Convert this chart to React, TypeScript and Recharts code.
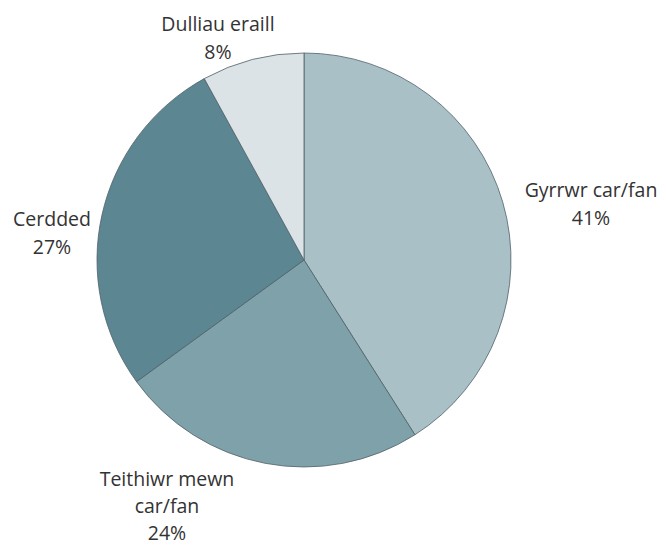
import { PieChart, Pie, Cell } from "recharts";

const categories = ["Gyrrwr car/fan", "Teithiwr mewn car/fan", "Cerdded", "Dulliau eraill"];
const shares = [41, 24, 27, 8];
const sliceColors = ["#a9c0c6", "#7fa1aa", "#5d8693", "#dbe3e6"];

const data = categories.map((name, i) => ({ name, value: shares[i] }));

// label lines for each slice, split where the original wraps
const labelLines = [
  ["Gyrrwr car/fan", "41%"],
  ["Teithiwr mewn", "car/fan", "24%"],
  ["Cerdded", "27%"],
  ["Dulliau eraill", "8%"],
];

// offsets of the label block from the pie centre
const labelOffsets: [number, number][] = [
  [287, -71],
  [-137, 218],
  [-252, -42],
  [-86, -237],
];

function SliceLabel(props: any) {
  const { cx, cy, index } = props;
  const [dx, dy] = labelOffsets[index];
  const lines = labelLines[index];
  const lh = lines.length > 2 ? 27 : 28;
  return (
    <text
      x={cx + dx}
      y={cy + dy}
      textAnchor="middle"
      dominantBaseline="central"
      fill="#333"
      fontSize={19.5}
      fontFamily="'Open Sans', sans-serif"
    >
      {lines.map((l, i) => (
        <tspan key={i} x={cx + dx} dy={i === 0 ? 0 : lh}>
          {l}
        </tspan>
      ))}
    </text>
  );
}

export default function App() {
  return (
    <div style={{ position: "absolute", left: 0, top: 0, width: 666, height: 545, background: "#fff" }}>
      <PieChart width={666} height={545}>
        <Pie
          data={data}
          dataKey="value"
          nameKey="name"
          cx={299}
          cy={255}
          outerRadius={207}
          startAngle={90}
          endAngle={-270}
          stroke="#4f6168"
          strokeWidth={0.8}
          label={SliceLabel}
          labelLine={false}
          isAnimationActive={false}
        >
          {data.map((d, i) => (
            <Cell key={d.name} fill={sliceColors[i]} />
          ))}
        </Pie>
      </PieChart>
    </div>
  );
}
